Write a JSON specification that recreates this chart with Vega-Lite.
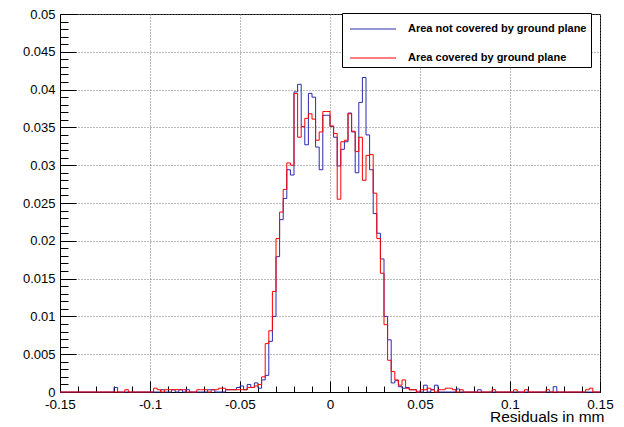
{
  "$schema": "https://vega.github.io/schema/vega-lite/v6.json",
  "width": 540,
  "height": 378,
  "autosize": {"type": "none"},
  "padding": {"left": 60, "top": 14, "right": 24, "bottom": 35},
  "background": "white",
  "config": {
    "font": "Liberation Sans",
    "view": {"stroke": "black", "strokeWidth": 1},
    "axis": {"labelFont": "Liberation Sans", "titleFont": "Liberation Sans", "labelColor": "black", "titleColor": "black", "tickColor": "black", "domainColor": "black"}
  },
  "data": {"values": [
    {"x": -0.15, "b": 0, "r": 0}, {"x": -0.148, "b": 0, "r": 0}, {"x": -0.146, "b": 0, "r": 0}, {"x": -0.144, "b": 0, "r": 0},
    {"x": -0.142, "b": 0, "r": 0}, {"x": -0.14, "b": 0, "r": 0}, {"x": -0.138, "b": 0, "r": 0}, {"x": -0.136, "b": 0, "r": 0},
    {"x": -0.134, "b": 0, "r": 0}, {"x": -0.132, "b": 0, "r": 0}, {"x": -0.13, "b": 0, "r": 0}, {"x": -0.128, "b": 0, "r": 0},
    {"x": -0.126, "b": 0, "r": 0}, {"x": -0.124, "b": 0, "r": 0}, {"x": -0.122, "b": 0, "r": 0}, {"x": -0.12, "b": 0.0006, "r": 0},
    {"x": -0.118, "b": 0, "r": 0}, {"x": -0.116, "b": 0, "r": 0}, {"x": -0.114, "b": 0, "r": 0.0003}, {"x": -0.112, "b": 0, "r": 0},
    {"x": -0.11, "b": 0, "r": 0}, {"x": -0.108, "b": 0, "r": 0}, {"x": -0.106, "b": 0, "r": 0}, {"x": -0.104, "b": 0, "r": 0},
    {"x": -0.102, "b": 0, "r": 0}, {"x": -0.1, "b": 0, "r": 0}, {"x": -0.098, "b": 0, "r": 0.0005}, {"x": -0.096, "b": 0, "r": 0.0003},
    {"x": -0.094, "b": 0.0003, "r": 0}, {"x": -0.092, "b": 0, "r": 0.0003}, {"x": -0.09, "b": 0, "r": 0.0003}, {"x": -0.088, "b": 0.0003, "r": 0.0003},
    {"x": -0.086, "b": 0, "r": 0.0003}, {"x": -0.084, "b": 0.0003, "r": 0.0003}, {"x": -0.082, "b": 0, "r": 0.0003}, {"x": -0.08, "b": 0.0003, "r": 0},
    {"x": -0.078, "b": 0, "r": 0}, {"x": -0.076, "b": 0, "r": 0}, {"x": -0.074, "b": 0, "r": 0.0003}, {"x": -0.072, "b": 0, "r": 0.0003},
    {"x": -0.07, "b": 0, "r": 0.0003}, {"x": -0.068, "b": 0.0003, "r": 0}, {"x": -0.066, "b": 0.0003, "r": 0.0003}, {"x": -0.064, "b": 0, "r": 0.0003},
    {"x": -0.062, "b": 0, "r": 0.0005}, {"x": -0.06, "b": 0, "r": 0.0005}, {"x": -0.058, "b": 0.0003, "r": 0.0003}, {"x": -0.056, "b": 0.0003, "r": 0.0003},
    {"x": -0.054, "b": 0.0003, "r": 0.0003}, {"x": -0.052, "b": 0.0006, "r": 0.0003}, {"x": -0.05, "b": 0.0008, "r": 0.0003}, {"x": -0.048, "b": 0.0003, "r": 0.0003},
    {"x": -0.046, "b": 0.001, "r": 0.0006}, {"x": -0.044, "b": 0.0006, "r": 0.0006}, {"x": -0.042, "b": 0.0012, "r": 0.0008}, {"x": -0.04, "b": 0.0005, "r": 0.001},
    {"x": -0.038, "b": 0.0016, "r": 0.002}, {"x": -0.036, "b": 0.0022, "r": 0.0064}, {"x": -0.034, "b": 0.0067, "r": 0.0081}, {"x": -0.032, "b": 0.01, "r": 0.0133},
    {"x": -0.03, "b": 0.0179, "r": 0.0203}, {"x": -0.028, "b": 0.0228, "r": 0.0238}, {"x": -0.026, "b": 0.0256, "r": 0.0268}, {"x": -0.024, "b": 0.0294, "r": 0.0303},
    {"x": -0.022, "b": 0.0287, "r": 0.03}, {"x": -0.02, "b": 0.0397, "r": 0.0395}, {"x": -0.018, "b": 0.0407, "r": 0.0337}, {"x": -0.016, "b": 0.0351, "r": 0.0351},
    {"x": -0.014, "b": 0.0327, "r": 0.0362}, {"x": -0.012, "b": 0.0395, "r": 0.0368}, {"x": -0.01, "b": 0.039, "r": 0.0361}, {"x": -0.008, "b": 0.0324, "r": 0.0333},
    {"x": -0.006, "b": 0.0294, "r": 0.0344}, {"x": -0.004, "b": 0.0366, "r": 0.0371}, {"x": -0.002, "b": 0.0366, "r": 0.0371}, {"x": 0, "b": 0.0351, "r": 0.0352},
    {"x": 0.002, "b": 0.0337, "r": 0.0342}, {"x": 0.004, "b": 0.0299, "r": 0.0255}, {"x": 0.006, "b": 0.0321, "r": 0.0331}, {"x": 0.008, "b": 0.0331, "r": 0.0333},
    {"x": 0.01, "b": 0.0369, "r": 0.0368}, {"x": 0.012, "b": 0.0344, "r": 0.0345}, {"x": 0.014, "b": 0.029, "r": 0.0318}, {"x": 0.016, "b": 0.0383, "r": 0.0337},
    {"x": 0.018, "b": 0.0416, "r": 0.028}, {"x": 0.02, "b": 0.034, "r": 0.0313}, {"x": 0.022, "b": 0.0294, "r": 0.0314}, {"x": 0.024, "b": 0.0236, "r": 0.0263},
    {"x": 0.026, "b": 0.021, "r": 0.0203}, {"x": 0.028, "b": 0.0176, "r": 0.0157}, {"x": 0.03, "b": 0.01, "r": 0.0089}, {"x": 0.032, "b": 0.0069, "r": 0.0042},
    {"x": 0.034, "b": 0.0012, "r": 0.0027}, {"x": 0.036, "b": 0.0015, "r": 0.0016}, {"x": 0.038, "b": 0.0007, "r": 0.0009}, {"x": 0.04, "b": 0.0005, "r": 0.0016},
    {"x": 0.042, "b": 0.0006, "r": 0.0005}, {"x": 0.044, "b": 0.0003, "r": 0.0003}, {"x": 0.046, "b": 0.0003, "r": 0.0003}, {"x": 0.048, "b": 0, "r": 0},
    {"x": 0.05, "b": 0, "r": 0.0003}, {"x": 0.052, "b": 0.0009, "r": 0.0003}, {"x": 0.054, "b": 0, "r": 0.0005}, {"x": 0.056, "b": 0.0003, "r": 0.0003},
    {"x": 0.058, "b": 0.0009, "r": 0}, {"x": 0.06, "b": 0, "r": 0.0003}, {"x": 0.062, "b": 0, "r": 0.0003}, {"x": 0.064, "b": 0, "r": 0.0005},
    {"x": 0.066, "b": 0, "r": 0.0005}, {"x": 0.068, "b": 0, "r": 0.0003}, {"x": 0.07, "b": 0.0004, "r": 0}, {"x": 0.072, "b": 0, "r": 0.0003},
    {"x": 0.074, "b": 0, "r": 0}, {"x": 0.076, "b": 0, "r": 0}, {"x": 0.078, "b": 0, "r": 0}, {"x": 0.08, "b": 0, "r": 0},
    {"x": 0.082, "b": 0.0003, "r": 0}, {"x": 0.084, "b": 0, "r": 0}, {"x": 0.086, "b": 0, "r": 0}, {"x": 0.088, "b": 0, "r": 0},
    {"x": 0.09, "b": 0, "r": 0.0003}, {"x": 0.092, "b": 0, "r": 0}, {"x": 0.094, "b": 0, "r": 0}, {"x": 0.096, "b": 0, "r": 0},
    {"x": 0.098, "b": 0, "r": 0}, {"x": 0.1, "b": 0, "r": 0}, {"x": 0.102, "b": 0, "r": 0.0003}, {"x": 0.104, "b": 0, "r": 0},
    {"x": 0.106, "b": 0, "r": 0}, {"x": 0.108, "b": 0, "r": 0.0003}, {"x": 0.11, "b": 0, "r": 0}, {"x": 0.112, "b": 0, "r": 0},
    {"x": 0.114, "b": 0, "r": 0}, {"x": 0.116, "b": 0, "r": 0}, {"x": 0.118, "b": 0, "r": 0}, {"x": 0.12, "b": 0, "r": 0.0003},
    {"x": 0.122, "b": 0, "r": 0}, {"x": 0.124, "b": 0.0007, "r": 0}, {"x": 0.126, "b": 0, "r": 0}, {"x": 0.128, "b": 0, "r": 0},
    {"x": 0.13, "b": 0, "r": 0}, {"x": 0.132, "b": 0, "r": 0}, {"x": 0.134, "b": 0, "r": 0}, {"x": 0.136, "b": 0, "r": 0},
    {"x": 0.138, "b": 0, "r": 0}, {"x": 0.14, "b": 0, "r": 0}, {"x": 0.142, "b": 0, "r": 0.0003}, {"x": 0.144, "b": 0, "r": 0.0005},
    {"x": 0.146, "b": 0, "r": 0}, {"x": 0.148, "b": 0, "r": 0}, {"x": 0.15, "b": 0, "r": 0}
  ]},
  "layer": [
    {
      "mark": {"type": "line", "interpolate": "step-after", "strokeWidth": 1, "clip": false},
      "encoding": {
        "x": {"field": "x", "type": "quantitative",
          "scale": {"domain": [-0.15, 0.15], "nice": false, "zero": false},
          "axis": {"orient": "bottom", "values": [-0.15, -0.1, -0.05, 0, 0.05, 0.1, 0.15],
            "labelExpr": "'' + datum.value", "tickSize": -11, "grid": true, "gridColor": "#777", "gridDash": [1, 2],
            "domain": true, "labelFontSize": 13.5, "labelPadding": 16, "labelFlush": false,
            "title": "Residuals in mm", "titleFontSize": 15.5, "titleFontWeight": "normal",
            "titleAnchor": "end", "titleAlign": "right", "titleBaseline": "alphabetic", "titleX": 544, "titleY": 29}},
        "y": {"field": "b", "type": "quantitative",
          "scale": {"domain": [0, 0.05], "nice": false, "zero": false},
          "axis": {"orient": "left", "values": [0, 0.005, 0.01, 0.015, 0.02, 0.025, 0.03, 0.035, 0.04, 0.045, 0.05],
            "labelExpr": "'' + datum.value", "tickSize": -16, "grid": true, "gridColor": "#777", "gridDash": [1, 2],
            "domain": true, "labelFontSize": 13, "labelPadding": 21, "labelFlush": false, "title": null}},
        "color": {"datum": "Area not covered by ground plane", "type": "nominal",
          "scale": {"domain": ["Area not covered by ground plane", "Area covered by ground plane"], "range": ["#2b2bb0", "#ff0000"]},
          "legend": {"orient": "none", "legendX": 282, "legendY": -1, "title": null,
            "symbolType": "M-2,0L2,0", "symbolSize": 529, "symbolStrokeWidth": 1,
            "labelFont": "Liberation Sans", "labelFontWeight": "bold", "labelFontSize": 11, "labelColor": "black",
            "padding": 4, "rowPadding": 12, "strokeColor": "black", "fillColor": "white",
            "symbolOffset": 15, "labelOffset": 23, "labelLimit": 400}}
      }
    },
    {
      "mark": {"type": "line", "interpolate": "step-after", "strokeWidth": 1, "clip": false},
      "encoding": {
        "x": {"field": "x", "type": "quantitative",
          "scale": {"domain": [-0.15, 0.15], "nice": false, "zero": false},
          "axis": {"orient": "bottom", "values": [-0.14, -0.13, -0.12, -0.11, -0.09, -0.08, -0.07, -0.06, -0.04, -0.03, -0.02, -0.01, 0.01, 0.02, 0.03, 0.04, 0.06, 0.07, 0.08, 0.09, 0.11, 0.12, 0.13, 0.14],
            "tickSize": -6, "labels": false, "grid": false, "domain": false, "title": null}},
        "y": {"field": "r", "type": "quantitative",
          "scale": {"domain": [0, 0.05], "nice": false, "zero": false},
          "axis": {"orient": "left", "values": [0.001, 0.002, 0.003, 0.004, 0.006, 0.007, 0.008, 0.009, 0.011, 0.012, 0.013, 0.014, 0.016, 0.017, 0.018, 0.019, 0.021, 0.022, 0.023, 0.024, 0.026, 0.027, 0.028, 0.029, 0.031, 0.032, 0.033, 0.034, 0.036, 0.037, 0.038, 0.039, 0.041, 0.042, 0.043, 0.044, 0.046, 0.047, 0.048, 0.049],
            "tickSize": -8, "labels": false, "grid": false, "domain": false, "title": null}},
        "color": {"datum": "Area covered by ground plane", "type": "nominal"}
      }
    }
  ],
  "resolve": {"axis": {"x": "independent", "y": "independent"}}
}
